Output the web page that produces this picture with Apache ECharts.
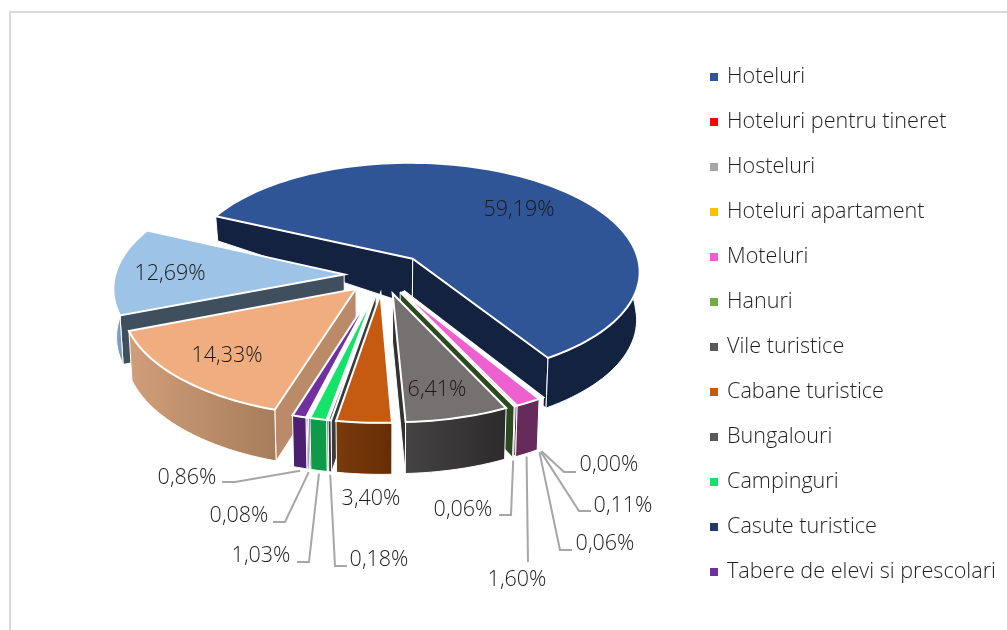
<!DOCTYPE html>
<html><head><meta charset="utf-8">
<script src="https://cdn.jsdelivr.net/npm/echarts@6/dist/echarts.min.js"></script>
<style>html,body{margin:0;padding:0;background:#fff}#c{width:1007px;height:630px}</style>
</head><body><div id="c"></div>
<script>
const categories = ['Hoteluri','Hoteluri pentru tineret','Hosteluri','Hoteluri apartament','Moteluri','Hanuri','Vile turistice','Cabane turistice','Bungalouri','Campinguri','Casute turistice','Tabere de elevi si prescolari','Pensiuni turistice','Pensiuni agroturistice'];
const values = [59.19,0.00,0.11,0.06,1.60,0.06,6.41,3.40,0.18,1.03,0.08,0.86,14.33,12.69];
const legendNames = categories.slice(0,12);
const topColors = ['#2F5597','#FF0000','#A5A5A5','#FFC000','#EE5FD0','#70AD47','#767171','#C55A11','#595959','#14E36A','#1F3864','#7030A0','#F0AE80','#9DC3E6'];
const legendColors = ['#2F5597','#FF0000','#A5A5A5','#FFC000','#EE5FD0','#70AD47','#595959','#C55A11','#595959','#14E36A','#1F3864','#7030A0','#F0AE80','#9DC3E6'];
const wallLeft = ['#12223F','#FFFFFF','#FFFFFF','#FFFFFF','#652B5A','#2B4A1F','#454343','#7A3B0C','#3A3A3A','#0E9A48','#101C33','#4D1F70','#D19E79','#86A9CA'];
const wallRight = ['#12223F','#FFFFFF','#FFFFFF','#FFFFFF','#652B5A','#2B4A1F','#2C2A2A','#662D06','#3A3A3A','#0E9A48','#101C33','#4D1F70','#A67D5B','#7596B5'];
const cutColors = ['#12223F','#FFFFFF','#FFFFFF','#FFFFFF','#652B5A','#2B4A1F','#333131','#662D06','#3A3A3A','#0E9A48','#101C33','#4D1F70','#BB8A68','#404F5E'];
const explodeBySlice = [0.20,0.17,0.17,0.17,0.17,0.17,0.17,0.17,0.17,0.17,0.17,0.17,0.17,0.17];
// label layout: index -> [text centre x, text centre y, elbow x, elbow y, line end x]
const labelLayout = {
  0:[519,210], 13:[170,274], 12:[227,356], 6:[437,390], 7:[371,499],
  11:[187,478,235,482,222], 10:[239,516,285,522,273], 9:[261,556,309,562,297], 8:[379,560,335,566,347],
  5:[463,510,511,515,499], 4:[517,580,528,562,528], 3:[605,544,560,550,572], 2:[623,506,579,511,591], 1:[609,465,564,472,576]
};
const FONT = '"Open Sans"';
const total = values.reduce((a,b)=>a+b,0);
const START = 204.7, cx = 383, cy = 275, S = 229, A = 110, D = 9;
const rad = d => d*Math.PI/180;
function proj(X,Z,low){
  const p = 1/(1-Z/D);
  let x = cx+X*S*p, y = cy+Z*A*p;
  if(low){
    const h = Z>=-0.12 ? 48+3*Math.max(Z,0) : Math.max(20,48-(-0.12-Z)*52);
    y += h; x = cx+(x-cx)*0.988;
  }
  return [x,y];
}
const slices = []; let acc = START;
values.forEach((v,i)=>{const a0=acc,a1=acc+v/total*360;acc=a1;const m=(a0+a1)/2;
  slices.push({a0,a1,m,ax:explodeBySlice[i]*Math.cos(rad(m)),az:explodeBySlice[i]*Math.sin(rad(m))});});
function outer(s,t,low){return proj(s.ax+Math.cos(rad(t)),s.az+Math.sin(rad(t)),low);}
function arc(s,low,visibleOnly){const n=Math.max(2,Math.ceil((s.a1-s.a0)/2));const o=[];
  for(let i=0;i<=n;i++){const t=s.a0+(s.a1-s.a0)*i/n;
    if(visibleOnly&&Math.sin(rad(t))<-0.05)continue;
    o.push(outer(s,t,low));}
  return o;}
function drawSlice(i){
  const s=slices[i]; if(values[i]===0) return {type:'group',children:[]};
  const topApex=proj(s.ax,s.az,false), lowApex=proj(s.ax,s.az,true);
  const top=arc(s,false,false), topV=arc(s,false,true), lowV=arc(s,true,true);
  const edge={stroke:'#fff',lineWidth:1};
  const children=[];
  const poly=(pts,fill,st)=>children.push({type:'polygon',shape:{points:pts},style:Object.assign({fill},st||edge)});
  const cut=t=>[topApex,outer(s,t,false),outer(s,t,true),lowApex];
  // a cut face is drawn only when it turns toward the viewer
  if(Math.cos(rad(s.a0))<0) poly(cut(s.a0),cutColors[i]);
  if(Math.cos(rad(s.a1))>0) poly(cut(s.a1),cutColors[i]);
  if(topV.length>1){
    const wallFill=new echarts.graphic.LinearGradient(0,0,1,0,[{offset:0,color:wallLeft[i]},{offset:1,color:wallRight[i]}]);
    poly(topV.concat(lowV.slice().reverse()),wallFill);
  }
  poly([topApex].concat(top),topColors[i],{stroke:'#fff',lineWidth:2,lineJoin:'miter'});
  return {type:'group',children};
}
function drawLabels(){
  const children=[];
  values.forEach((v,i)=>{
    const l=labelLayout[i]; const txt=v.toFixed(2).replace('.',',')+'%';
    children.push({type:'text',z2:5,style:{x:l[0],y:l[1],text:txt,align:'center',verticalAlign:'middle',font:'300 21.5px '+FONT,fill:'#1a1a1a'}});
    if(l.length>2){
      const a=outer(slices[i],slices[i].m,true);
      children.push({type:'polyline',shape:{points:[[l[4],l[3]],[l[2],l[3]],[a[0],a[1]+3]]},style:{fill:null,stroke:'#A6A6A6',lineWidth:2}});
    }
  });
  return {type:'group',children};
}
const order = values.map((v,i)=>i).sort((a,b)=>Math.sin(rad(slices[a].m))-Math.sin(rad(slices[b].m)));
const series = values.map((v,i)=>({
  type:'custom',name:categories[i],coordinateSystem:'none',silent:true,animation:false,
  z:2+order.indexOf(i),itemStyle:{color:legendColors[i]},data:[[v]],
  renderItem:()=>drawSlice(i)
}));
series.push({type:'custom',name:'labels',coordinateSystem:'none',silent:true,animation:false,z:50,data:[[0]],renderItem:()=>drawLabels()});
const chart = echarts.init(document.getElementById('c'),null,{renderer:'canvas'});
chart.setOption({
  animation:false,backgroundColor:'#fff',tooltip:{show:false},
  legend:{orient:'vertical',left:710,top:64,padding:0,data:legendNames,icon:'rect',itemWidth:8,itemHeight:8,itemGap:19,selectedMode:false,
    textStyle:{fontFamily:FONT,fontSize:21.6,fontWeight:300,color:'#1f1f1f',height:24,lineHeight:24,padding:[2,0,0,4]}},
  graphic:[{type:'polyline',silent:true,shape:{points:[[10,630],[10,12],[1007,12]]},style:{fill:null,stroke:'#D9D9D9',lineWidth:2}}],
  series
});
</script></body></html>
